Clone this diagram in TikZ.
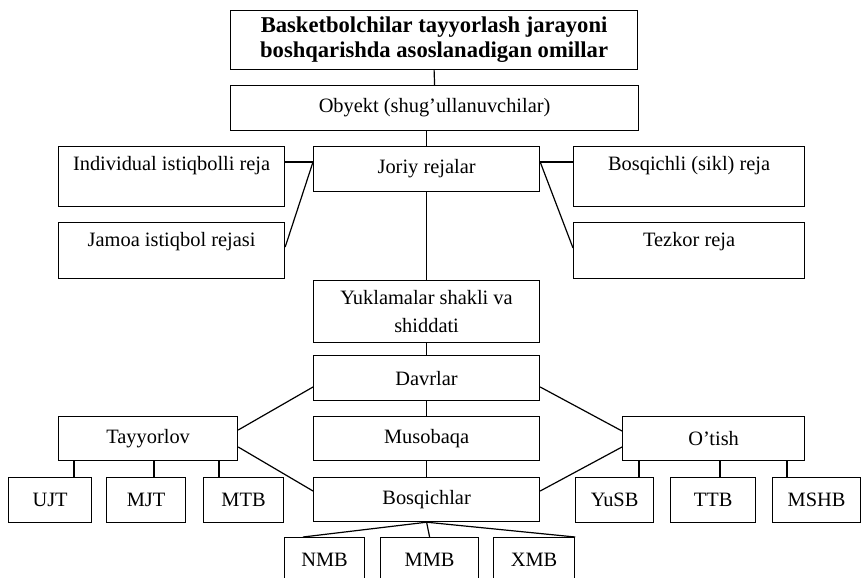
\documentclass[tikz,border=0pt]{standalone}
\usepackage{fontspec}
\setmainfont{Liberation Serif}
\usepackage{xcolor}
\usepackage{tikz}

\tikzset{
  box/.style={draw, line width=0.6pt, anchor=north west, align=center,
    inner sep=0pt, font=\fontsize{10.2}{14}\selectfont},
  upbox/.style={box, text height=12pt},
  link/.style={line width=0.6pt}
}

\begin{document}
\begin{tikzpicture}[x=0.5pt,y=-0.5pt]
  \useasboundingbox (0,0) rectangle (862,578);
  % top levels
  \node[box, minimum width=203.5pt, minimum height=29.5pt,
    font=\fontsize{11.3}{12.5}\selectfont\bfseries] (head) at (230,10)
    {Basketbolchilar tayyorlash jarayoni\\boshqarishda asoslanadigan omillar};
  \node[box, minimum width=204pt, minimum height=22.5pt] (obj) at (230,85)
    {Obyekt (shug’ullanuvchilar)};
  % plans
  \node[upbox, minimum width=113pt, text depth=18pt] (ind) at (58,146)
    {Individual istiqbolli reja};
  \node[box, minimum width=113pt, minimum height=22.5pt] (jor) at (313,146)
    {Joriy rejalar};
  \node[upbox, minimum width=115.5pt, text depth=18pt] (bos) at (573,146)
    {Bosqichli (sikl) reja};
  \node[upbox, minimum width=113pt, text depth=16pt] (jam) at (58,222)
    {Jamoa istiqbol rejasi};
  \node[upbox, minimum width=115.5pt, text depth=16pt] (tez) at (573,222)
    {Tezkor reja};
  % loads and periods
  \node[box, minimum width=113pt, minimum height=31pt] (yuk) at (313,280)
    {Yuklamalar shakli va\\shiddati};
  \node[box, minimum width=113pt, minimum height=22.5pt] (dav) at (313,355)
    {Davrlar};
  \node[box, minimum width=89.5pt, minimum height=22pt] (tay) at (58,416)
    {Tayyorlov};
  \node[box, minimum width=113pt, minimum height=22pt] (mus) at (313,416)
    {Musobaqa};
  \node[box, minimum width=91pt, minimum height=22pt] (ots) at (622,416)
    {O’tish};
  % stages
  \node[box, minimum width=41.5pt, minimum height=22.5pt] (ujt) at (8,477) {UJT};
  \node[box, minimum width=39.5pt, minimum height=22.5pt] (mjt) at (106,477) {MJT};
  \node[box, minimum width=40pt, minimum height=22.5pt] (mtb) at (203,477) {MTB};
  \node[box, minimum width=113pt, minimum height=22pt] (bsq) at (313,477) {Bosqichlar};
  \node[box, minimum width=39pt, minimum height=22.5pt] (yus) at (575,477) {YuSB};
  \node[box, minimum width=42.5pt, minimum height=22.5pt] (ttb) at (670,477) {TTB};
  \node[box, minimum width=44pt, minimum height=22.5pt] (msh) at (772,477) {MSHB};
  \node[box, minimum width=40pt, minimum height=22.5pt] (nmb) at (284,537) {NMB};
  \node[box, minimum width=49pt, minimum height=22.5pt] (mmb) at (380,537) {MMB};
  \node[box, minimum width=40.5pt, minimum height=22.5pt] (xmb) at (493,537) {XMB};

  \draw[link] (head.south) -- (obj.north);
  \draw[link] (jor.north) -- (jor.north |- obj.south);
  \draw[link] (ind.east |- 0,162) -- (jor.west |- 0,162);
  \draw[link] (jam.east |- 0,247) -- (jor.west |- 0,162);
  \draw[link] (bos.west |- 0,162) -- (jor.east |- 0,162);
  \draw[link] (tez.west |- 0,248) -- (jor.east |- 0,162);
  \draw[link] (jor.south) -- (yuk.north);
  \draw[link] (yuk.south) -- (dav.north);
  \draw[link] (dav.south) -- (mus.north);
  \draw[link] (dav.west |- 0,387) -- (tay.east |- 0,430);
  \draw[link] (tay.east |- 0,447) -- (bsq.west |- 0,491);
  \draw[link] (dav.east |- 0,387) -- (ots.west |- 0,431);
  \draw[link] (ots.west |- 0,447) -- (bsq.east |- 0,491);
  \draw[link] (mus.south) -- (bsq.north);
  % Tayyorlov -- stages
  \draw[link] (74,0 |- tay.south) -- (74,0 |- ujt.north);
  \draw[link] (154,0 |- tay.south) -- (154,0 |- mjt.north);
  \draw[link] (219,0 |- tay.south) -- (219,0 |- mtb.north);
  % O'tish -- stages
  \draw[link] (639,0 |- ots.south) -- (639,0 |- yus.north);
  \draw[link] (720,0 |- ots.south) -- (720,0 |- ttb.north);
  \draw[link] (787,0 |- ots.south) -- (787,0 |- msh.north);
  % Bosqichlar -- bottom row
  \draw[link] (bsq.south) -- (303,0 |- nmb.north);
  \draw[link] (bsq.south) -- (mmb.north);
  \draw[link] (bsq.south) -- (xmb.north east);
\end{tikzpicture}
\end{document}
